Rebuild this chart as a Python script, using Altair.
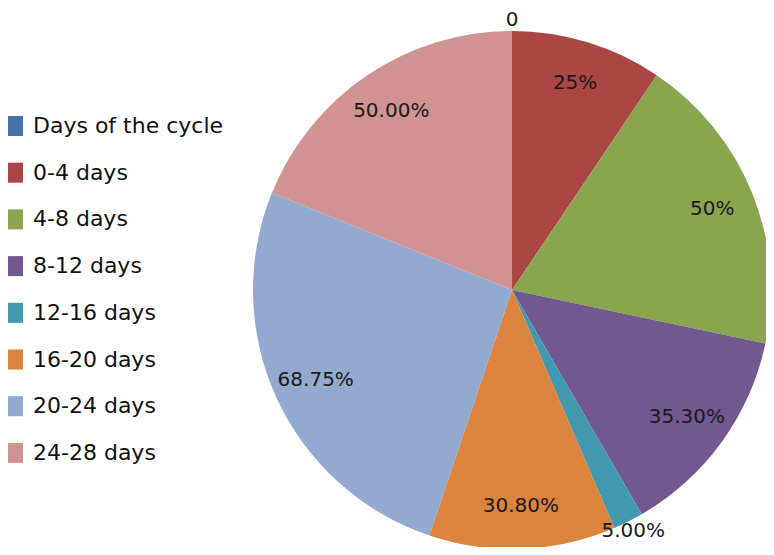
import altair as alt
import pandas as pd

categories = ["Days of the cycle", "0-4 days", "4-8 days", "8-12 days",
              "12-16 days", "16-20 days", "20-24 days", "24-28 days"]
values = [0, 25, 50, 35.3, 5, 30.8, 68.75, 50]
labels = ["0", "25%", "50%", "35.30%", "5.00%", "30.80%", "68.75%", "50.00%"]
colors = ["#4572A7", "#AA4644", "#89A54E", "#71588F", "#4198AF",
          "#DB843D", "#93A9CF", "#D19392"]

df = pd.DataFrame({"cat": categories, "value": values, "label": labels,
                   "order": list(range(len(categories)))})

cx, cy = 504, 282

arcs = alt.Chart(df).mark_arc(outerRadius=259).encode(
    theta=alt.Theta("value:Q", stack=True),
    order=alt.Order("order:Q"),
    x=alt.value(cx),
    y=alt.value(cy),
    color=alt.Color(
        "cat:N",
        sort=categories,
        scale=alt.Scale(domain=categories, range=colors),
        legend=alt.Legend(
            title=None, orient="none", legendX=-6, legendY=107,
            symbolType="square", symbolSize=400, symbolStrokeWidth=0,
            labelFont="DejaVu Sans", labelFontSize=22, labelColor="#111111",
            labelOffset=9, rowPadding=24.7, padding=0, labelLimit=400,
        ),
    ),
)

texts = alt.Chart(df).transform_window(
    cum="sum(value)", sort=[alt.SortField("order")], frame=[None, 0]
).transform_calculate(
    mid="datum.cum - datum.value / 2",
    r="datum.value < 10 ? 270 : 216",
).mark_text(
    font="DejaVu Sans", fontSize=20, color="#1a1a1a"
).encode(
    theta=alt.Theta("mid:Q", stack=None),
    radius=alt.Radius("r:Q", scale=None),
    x=alt.value(cx),
    y=alt.value(cy),
    text="label:N",
)

chart = alt.layer(arcs, texts).properties(
    width=758, height=539, padding=0,
    autosize=alt.AutoSizeParams(type="none"),
).configure_view(stroke=None)

chart.save("out.html", embed_options={"renderer": "svg", "actions": False})
